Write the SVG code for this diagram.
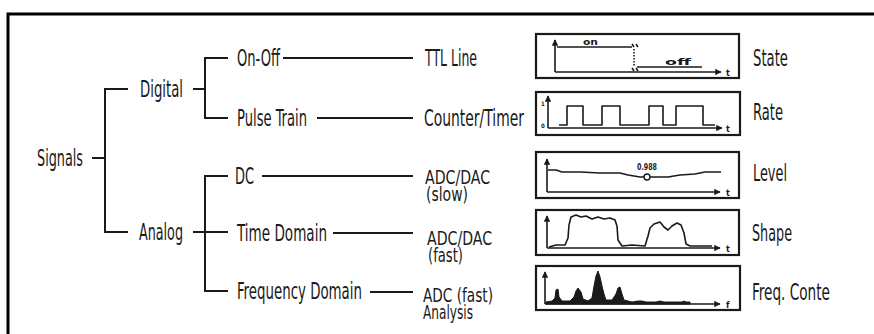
<svg xmlns="http://www.w3.org/2000/svg" width="874" height="334" viewBox="0 0 874 334">
<style>
.t{font-family:"Liberation Sans Narrow","DejaVu Sans Condensed","Liberation Sans",sans-serif;font-size:23px;fill:#1a1a1a}
.u{font-family:"Liberation Sans Narrow","DejaVu Sans Condensed","Liberation Sans",sans-serif;font-size:20px;fill:#1a1a1a}
.s{font-family:"Liberation Sans Narrow","DejaVu Sans Condensed","Liberation Sans",sans-serif;font-size:9px;font-weight:bold;fill:#1a1a1a}
.xs{font-family:"Liberation Sans Narrow","DejaVu Sans Condensed","Liberation Sans",sans-serif;font-size:6px;font-weight:bold;fill:#1a1a1a}
.c{stroke:#1a1a1a;stroke-width:2;fill:none}
.box{stroke:#1a1a1a;stroke-width:2.2;fill:#fff}
.ax{stroke:#1a1a1a;stroke-width:1.6;fill:none}
.sig{stroke:#1a1a1a;stroke-width:1.6;fill:none;stroke-linejoin:round}
</style>
<defs>
<marker id="ar" viewBox="0 0 10 10" refX="9" refY="5" markerWidth="4" markerHeight="4" orient="auto" markerUnits="strokeWidth">
<path d="M0,0 L10,5 L0,10 z" fill="#1a1a1a"/>
</marker>
</defs>
<rect width="874" height="334" fill="#fff"/>
<path d="M8,334 V14 H874" stroke="#000" stroke-width="3" fill="none"/>

<g id="connectors">
<path class="c" d="M92,158 H105 M128,89 H105 V232 H128"/>
<path class="c" d="M193,89 H205 M228,58 H205 V118 H228"/>
<path class="c" d="M193,232 H228 M228,176 H205 V291 H228"/>
<path class="c" d="M283,58 H413"/>
<path class="c" d="M317,118 H413"/>
<path class="c" d="M262,176 H413"/>
<path class="c" d="M333,233 H413"/>
<path class="c" d="M370,292 H413"/>
</g>

<g id="signals"><text class="t" x="37" y="166" textLength="46" lengthAdjust="spacingAndGlyphs">Signals</text></g>
<g id="digital"><text class="t" x="140" y="97" textLength="43" lengthAdjust="spacingAndGlyphs">Digital</text></g>
<g id="analog"><text class="t" x="139" y="240" textLength="44" lengthAdjust="spacingAndGlyphs">Analog</text></g>
<g id="onoff"><text class="t" x="237" y="66" textLength="43" lengthAdjust="spacingAndGlyphs">On-Off</text></g>
<g id="pulsetrain"><text class="t" x="237" y="126" textLength="70" lengthAdjust="spacingAndGlyphs">Pulse Train</text></g>
<g id="dc"><text class="t" x="235" y="184" textLength="19" lengthAdjust="spacingAndGlyphs">DC</text></g>
<g id="timedomain"><text class="t" x="237" y="241" textLength="90" lengthAdjust="spacingAndGlyphs">Time Domain</text></g>
<g id="freqdomain"><text class="t" x="237" y="299" textLength="125" lengthAdjust="spacingAndGlyphs">Frequency Domain</text></g>

<g id="ttl"><text class="t" x="425" y="66" textLength="52" lengthAdjust="spacingAndGlyphs">TTL Line</text></g>
<g id="counter"><text class="t" x="424" y="126" textLength="100" lengthAdjust="spacingAndGlyphs">Counter/Timer</text></g>
<g id="adcslow"><text class="u"><tspan x="425" y="184" textLength="65" lengthAdjust="spacingAndGlyphs">ADC/DAC</tspan><tspan x="426" y="201" textLength="42" lengthAdjust="spacingAndGlyphs">(slow)</tspan></text></g>
<g id="adcfast"><text class="u"><tspan x="427" y="245" textLength="65" lengthAdjust="spacingAndGlyphs">ADC/DAC</tspan><tspan x="428" y="262" textLength="35" lengthAdjust="spacingAndGlyphs">(fast)</tspan></text></g>
<g id="adcanalysis"><text class="u"><tspan x="423" y="302" textLength="70" lengthAdjust="spacingAndGlyphs">ADC (fast)</tspan><tspan x="423" y="319" textLength="50" lengthAdjust="spacingAndGlyphs">Analysis</tspan></text></g>

<g id="state"><text class="t" x="753" y="66" textLength="35" lengthAdjust="spacingAndGlyphs">State</text></g>
<g id="rate"><text class="t" x="753" y="120" textLength="30" lengthAdjust="spacingAndGlyphs">Rate</text></g>
<g id="level"><text class="t" x="753" y="181" textLength="34" lengthAdjust="spacingAndGlyphs">Level</text></g>
<g id="shape"><text class="t" x="752" y="241" textLength="40" lengthAdjust="spacingAndGlyphs">Shape</text></g>
<g id="freqcontent"><text class="t" x="752" y="300" textLength="78" lengthAdjust="spacingAndGlyphs">Freq. Conte</text></g>

<g id="chart-state">
<rect class="box" x="536" y="34" width="203" height="44"/>
<path class="ax" d="M555,72 V40" marker-end="url(#ar)"/>
<path class="ax" d="M555,72 H721" marker-end="url(#ar)"/>
<text class="s" x="726" y="76">t</text>
<path class="sig" d="M557,47 H632 M637,67 H702"/>
<path class="sig" d="M634,49 V66" stroke-dasharray="1.5,1.5"/>
<path class="ax" stroke-width="1" d="M632,44 l2,3 M636,44 l2,3 M632,68 l2,3 M636,68 l2,3"/>
<text class="s" x="583" y="45" textLength="15" lengthAdjust="spacingAndGlyphs">on</text>
<text class="s" x="665" y="65" textLength="26" lengthAdjust="spacingAndGlyphs">off</text>
</g>

<g id="chart-rate">
<rect class="box" x="536" y="92" width="204" height="43"/>
<path class="ax" d="M548,128 V96" marker-end="url(#ar)"/>
<path class="ax" d="M548,128 H722" marker-end="url(#ar)"/>
<text class="s" x="726" y="132">t</text>
<text class="xs" x="541" y="106">1</text>
<text class="xs" x="541" y="128">0</text>
<path class="sig" d="M559,125 H567 V106 H583 V125 H602 V106 H620 V125 H649 V106 H663 V125 H676 V106 H703 V125 H715"/>
</g>

<g id="chart-level">
<rect class="box" x="536" y="152" width="203" height="46"/>
<path class="ax" d="M547,192 V159" marker-end="url(#ar)"/>
<path class="ax" d="M547,192 H720" marker-end="url(#ar)"/>
<text class="s" x="726" y="196">t</text>
<path class="sig" d="M548,170 L556,170 L562,172 L580,172 L600,173 L620,173 L628,175 L640,177 L655,177 L668,177 L680,175 L695,174 L705,172 L721,172"/>
<circle cx="647" cy="177" r="3" fill="#fff" stroke="#1a1a1a" stroke-width="1.4"/>
<text class="s" x="637" y="170" style="font-size:8px" textLength="20" lengthAdjust="spacingAndGlyphs">0.988</text>
</g>

<g id="chart-shape">
<rect class="box" x="536" y="210" width="203" height="45"/>
<path class="ax" d="M547,248 V216" marker-end="url(#ar)"/>
<path class="ax" d="M547,248 H720" marker-end="url(#ar)"/>
<text class="s" x="726" y="252">t</text>
<path class="sig" d="M549,247 L556,245 L565,245 L568,238 L569,225 L571,217 L576,215 L581,217 L586,216 L592,219 L598,217 L604,219 L610,218 L615,220 L617,226 L618,240 L622,246 L632,245 L645,246 L648,236 L650,228 L654,224 L660,222 L664,227 L668,230 L672,226 L677,223 L681,225 L684,233 L686,244 L690,246 L700,246 L712,246"/>
</g>

<g id="chart-freq">
<rect class="box" x="536" y="266" width="204" height="44"/>
<path class="ax" d="M545,304 V272" marker-end="url(#ar)"/>
<path class="ax" d="M545,304 H720" marker-end="url(#ar)"/>
<text class="s" x="726" y="308">f</text>
<path fill="#1a1a1a" stroke="#1a1a1a" stroke-width="1" stroke-linejoin="round" d="M546,304 L546,302 L552,301 L555,298 L556,290 L558,289 L559,297 L562,301 L570,301 L574,297 L576,291 L578,288 L581,292 L583,299 L588,301 L592,298 L594,286 L596,276 L598,271 L600,277 L602,286 L604,294 L606,300 L612,300 L616,294 L618,288 L620,287 L622,294 L624,300 L632,302 L638,301 L642,301 L646,302 L656,302 L660,301 L664,302 L672,302 L682,302 L684,301 L686,302 L690,302 L690,304 Z"/>
</g>
</svg>
